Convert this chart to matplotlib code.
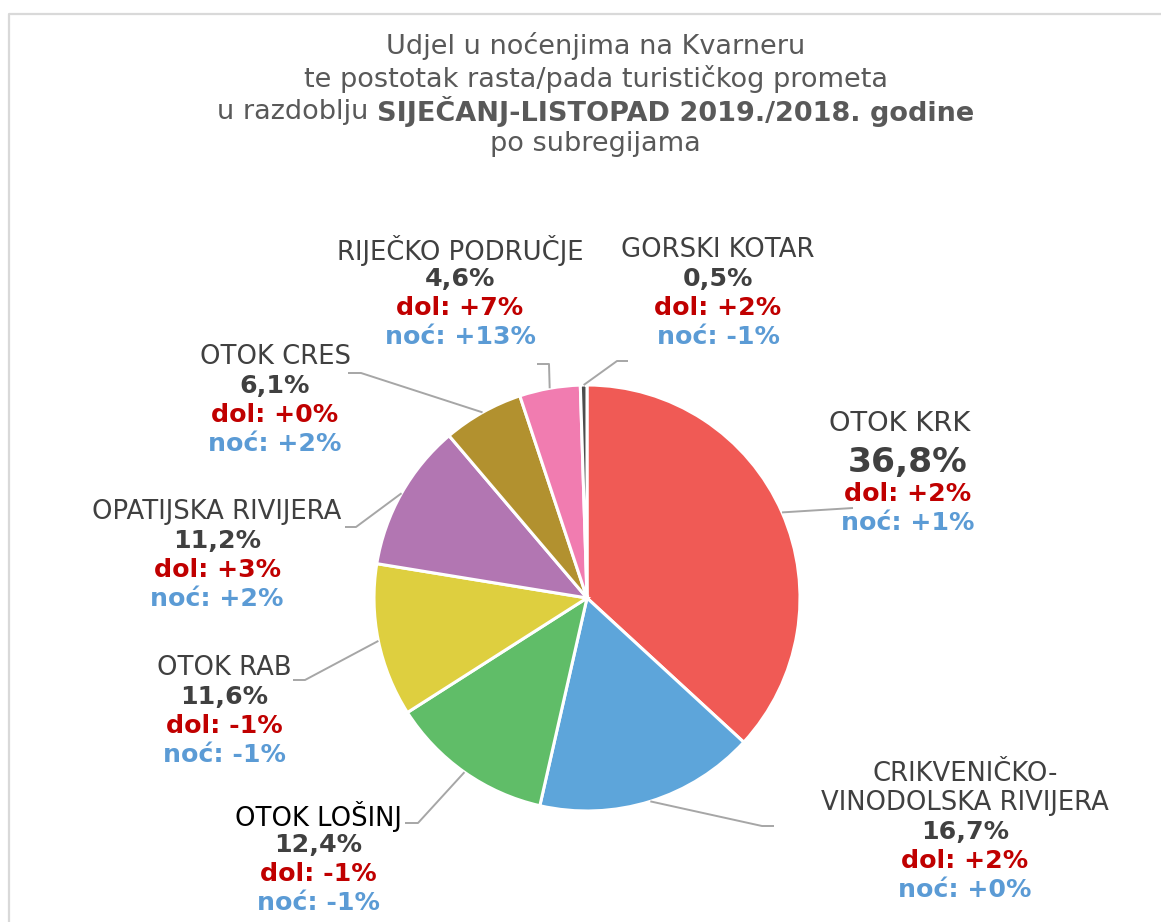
import numpy as np
import matplotlib.pyplot as plt
from matplotlib import rcParams

rcParams['font.family'] = 'DejaVu Sans'

# podaci
regije = ['OTOK KRK', 'CRIKVENIČKO-\nVINODOLSKA RIVIJERA', 'OTOK LOŠINJ', 'OTOK RAB',
          'OPATIJSKA RIVIJERA', 'OTOK CRES', 'RIJEČKO PODRUČJE', 'GORSKI KOTAR']
udio = [36.8, 16.7, 12.4, 11.6, 11.2, 6.1, 4.6, 0.5]
dolasci = [2, 2, -1, -1, 3, 0, 7, 2]
nocenja = [1, 0, -1, -1, 2, 2, 13, -1]
boje = ['#F05A55', '#5DA5DA', '#60BD68', '#DECF3F', '#B276B2', '#B2912F', '#F17CB0', '#4D4D4D']

# raspored (pikseli od gornjeg lijevog kuta)
W, H = 1161, 922
centar = (587, 598)
radijus = 213
# (x središta teksta, y prvog retka)
poz_teksta = [(908, 424), (965, 774), (318, 816), (224, 668),
              (217, 512), (275, 357), (460, 250), (718, 250)]
# lomne točke linija vodilica
vodilice = [[(853, 508)],
            [(762, 826), (774, 826)],
            [(418, 823), (405, 823)],
            [(305, 680), (293, 680)],
            [(356, 527), (345, 527)],
            [(361, 373), (348, 373)],
            [(549, 364), (537, 364)],
            [(617, 361), (628, 361)]]

fig = plt.figure(figsize=(W / 100, H / 100), dpi=100)
ax = fig.add_axes([0, 0, 1, 1])

def py(y):
    return H - y

wedges, _ = ax.pie(udio, colors=boje, startangle=90, counterclock=False,
                   center=(centar[0], py(centar[1])), radius=radijus,
                   wedgeprops=dict(edgecolor='white', linewidth=2.2))
ax.set_xlim(0, W)
ax.set_ylim(0, H)
ax.set_aspect('equal')
ax.axis('off')

# okvir
ax.plot([9, 9, W], [0, py(14), py(14)], color='#D9D9D9', lw=1.6)

siva = '#404040'
crvena = '#C00000'
plava = '#5B9BD5'

def fmt(v):
    return f"{v:+d}%" if v != 0 else "+0%"

for i, w in enumerate(wedges):
    kut = np.deg2rad((w.theta1 + w.theta2) / 2)
    x0 = centar[0] + radijus * np.cos(kut)
    y0 = py(centar[1]) + radijus * np.sin(kut)
    xs = [x0] + [p[0] for p in vodilice[i]]
    ys = [y0] + [py(p[1]) for p in vodilice[i]]
    ax.plot(xs, ys, color='#A6A6A6', lw=1.4, solid_capstyle='butt')

    tx, ty = poz_teksta[i]
    krk = i == 0
    vel_ime = 19.7 if krk else 18.6
    vel_val = 24.8 if krk else 18.2
    boja_ime = '#000000' if regije[i] == 'OTOK LOŠINJ' else siva
    linije = regije[i].split('\n')
    y = ty
    for l in linije:
        ax.text(tx - (8 if krk else 0), py(y), l, ha='center', va='center',
                fontsize=vel_ime, color=boja_ime)
        y += 29
    if krk:
        y += 10
    ax.text(tx, py(y), f"{udio[i]:.1f}%".replace('.', ','), ha='center', va='center',
            fontsize=vel_val, fontweight='bold', color=siva)
    y += 31 if krk else 29
    ax.text(tx, py(y), f"dol: {fmt(dolasci[i])}", ha='center', va='center',
            fontsize=18.2, fontweight='bold', color=crvena)
    y += 29
    ax.text(tx, py(y), f"noć: {fmt(nocenja[i])}", ha='center', va='center',
            fontsize=18.2, fontweight='bold', color=plava)

# naslov
naslov_boja = '#595959'
vel_naslov = 19.5
ax.text(W / 2 + 15, py(46), 'Udjel u noćenjima na Kvarneru', ha='center', va='center',
        fontsize=vel_naslov, color=naslov_boja)
ax.text(W / 2 + 15, py(79), 'te postotak rasta/pada turističkog prometa', ha='center',
        va='center', fontsize=vel_naslov, color=naslov_boja)
ax.text(W / 2 + 15, py(144), 'po subregijama', ha='center', va='center',
        fontsize=vel_naslov, color=naslov_boja)
t1 = ax.text(0, py(112), 'u razdoblju ', ha='left', va='center', fontsize=vel_naslov,
             color=naslov_boja)
t2 = ax.text(0, py(112), 'SIJEČANJ-LISTOPAD 2019./2018. godine', ha='left', va='center',
             fontsize=vel_naslov, fontweight='bold', color=naslov_boja)
fig.canvas.draw()
r = fig.canvas.get_renderer()
w1 = t1.get_window_extent(r).width
w2 = t2.get_window_extent(r).width
x_start = W / 2 + 15 - (w1 + w2) / 2
t1.set_x(x_start)
t2.set_x(x_start + w1)

fig.savefig('out.png', dpi=100)
